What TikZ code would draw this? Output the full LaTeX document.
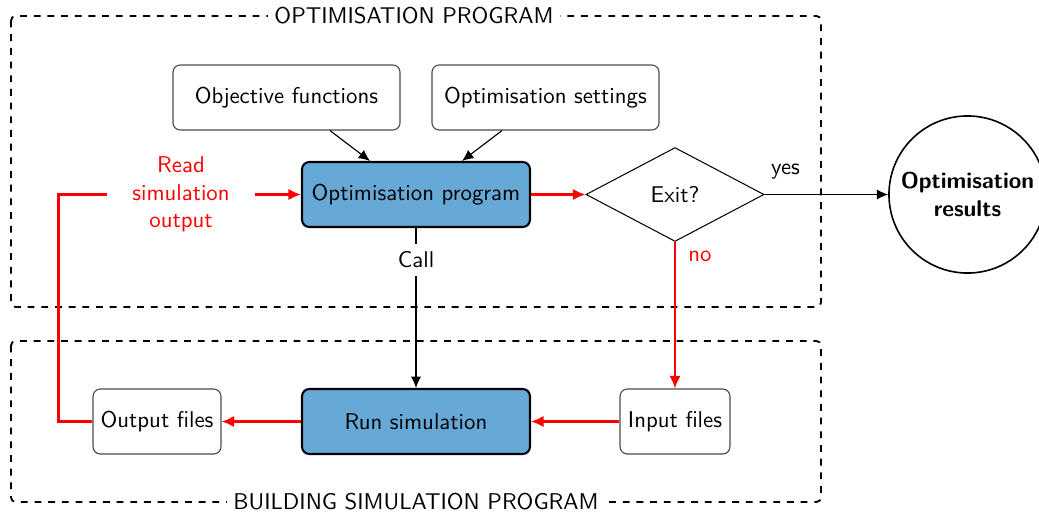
\documentclass[tikz,border=0pt]{standalone}
\usepackage{fontspec}
\usetikzlibrary{shapes.geometric,arrows.meta,calc}
\definecolor{simblue}{RGB}{102,169,214}
\begin{document}
\begin{tikzpicture}[x=0.4386pt,y=-0.4386pt,font=\sffamily,
  box/.style={draw=black!70,rounded corners=3.2pt,minimum height=28.5pt,inner sep=2pt,line width=0.5pt},
  mainbox/.style={box,draw=black,fill=simblue,line width=0.9pt},
  frame/.style={draw,dashed,line width=0.8pt,rounded corners=2pt},
  frametitle/.style={fill=white,inner sep=3pt},
  flow/.style={-{Latex[length=5pt,width=4.5pt]},line width=0.5pt},
  loop/.style={red,line width=1pt},
  loopflow/.style={loop,-{Latex[length=5.5pt,width=5pt]}}]
  \useasboundingbox (0,0) rectangle (1039,516);

  % program frames
  \draw[frame] (11,16) rectangle (821,307);
  \draw[frame] (11,341) rectangle (821,502);
  \node[frametitle] (opttitle) at (414,16) {OPTIMISATION PROGRAM};
  \node[frametitle] (simtitle) at (416,502) {BUILDING SIMULATION PROGRAM};

  % optimisation side
  \node[box,minimum width=99.6pt] (obj) at (286.5,97.5) {Objective functions};
  \node[box,minimum width=99.6pt] (set) at (545.5,97.5) {Optimisation settings};
  \node[mainbox,minimum width=100pt] (opt) at (416,194.5) {Optimisation program};
  \node[diamond,draw,line width=0.45pt,minimum width=78.1pt,minimum height=41.2pt,inner sep=0pt] (exit) at (675,194.5) {Exit?};
  \node[circle,draw,line width=0.7pt,minimum size=68.9pt,inner sep=0pt,font=\sffamily\bfseries,align=center] (res) at (967.5,194.5) {Optimisation\\results};
  \node[red,align=center,minimum width=64.9pt] (read) at (181,194.5) {Read\\simulation\\output};

  % simulation side
  \node[mainbox,minimum width=100pt] (run) at (416,421.5) {Run simulation};
  \node[box,minimum width=56.1pt] (out) at (157,421.5) {Output files};
  \node[box,minimum width=48.2pt] (inp) at (675,421.5) {Input files};

  % connectors
  \draw[flow] ($(obj.south)+(43.5,0)$) -- ($(opt.north)+(-46,0)$);
  \draw[flow] ($(set.south)+(-43.5,0)$) -- ($(opt.north)+(46,0)$);
  \draw[loopflow] (opt.east) -- (exit.west);
  \draw[flow] (exit.east) -- node[above,pos=0.17,yshift=3pt] (yes) {yes} (res.west);
  \draw[loopflow] (exit.south) -- node[right,pos=0.1,red,xshift=2pt] (no) {no} (inp.north);
  \draw[flow] (opt.south) -- node[fill=white,pos=0.2] (call) {Call} (run.north);
  \draw[loopflow] (inp.west) -- (run.east);
  \draw[loopflow] (run.west) -- (out.east);
  \draw[loop] (out.west) -- ++(-34,0) |- (read.west);
  \draw[loopflow] (read.east) -- (opt.west);
\end{tikzpicture}
\end{document}
